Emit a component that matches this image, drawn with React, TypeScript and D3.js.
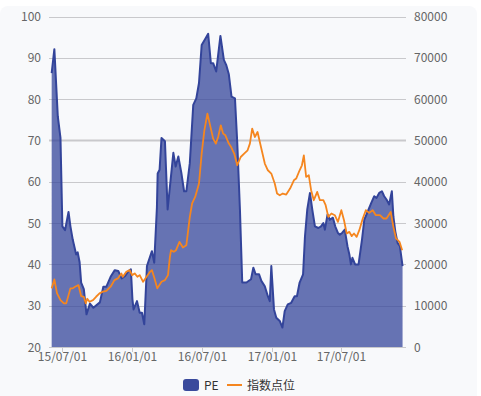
import { useRef, useEffect } from 'react';
import * as d3 from 'd3';

// PE series [date, value]
const peSeries: [string, number][] = [
  ['2015-06-05', 86.3], ['2015-06-12', 92.1], ['2015-06-21', 75.8], ['2015-06-28', 70.6],
  ['2015-07-03', 49.2], ['2015-07-10', 48.3], ['2015-07-19', 52.7], ['2015-07-24', 49.2],
  ['2015-07-30', 46], ['2015-08-08', 42.4], ['2015-08-12', 42.9], ['2015-08-17', 40.5],
  ['2015-08-21', 35.6], ['2015-08-28', 34], ['2015-09-04', 27.9], ['2015-09-13', 30.5],
  ['2015-09-22', 29.5], ['2015-10-09', 30.8], ['2015-10-18', 34.6], ['2015-10-26', 34.6],
  ['2015-11-06', 37], ['2015-11-17', 38.6], ['2015-11-26', 38.4], ['2015-12-05', 36.6],
  ['2015-12-14', 37.2], ['2015-12-23', 38.4], ['2015-12-29', 38.8], ['2016-01-02', 31.6],
  ['2016-01-05', 29.1], ['2016-01-14', 31.1], ['2016-01-21', 28.3], ['2016-01-27', 28.3],
  ['2016-02-02', 25.5], ['2016-02-09', 39.6], ['2016-02-22', 43.2], ['2016-02-28', 40.4],
  ['2016-03-06', 53.7], ['2016-03-08', 62], ['2016-03-13', 62.9], ['2016-03-18', 70.6],
  ['2016-03-27', 69.8], ['2016-04-03', 53.3], ['2016-04-18', 67], ['2016-04-24', 63.7],
  ['2016-05-01', 66.1], ['2016-05-09', 62.1], ['2016-05-16', 57.7], ['2016-05-22', 57.7],
  ['2016-05-31', 64.5], ['2016-06-09', 78.6], ['2016-06-17', 80.2], ['2016-06-24', 83.9],
  ['2016-07-01', 93.1], ['2016-07-11', 94.7], ['2016-07-18', 95.8], ['2016-07-25', 88.7],
  ['2016-07-31', 88.7], ['2016-08-08', 86.7], ['2016-08-19', 95.3], ['2016-08-28', 89.5],
  ['2016-09-03', 88.3], ['2016-09-10', 86], ['2016-09-17', 80.6], ['2016-09-26', 80.2],
  ['2016-10-02', 69.4], ['2016-10-09', 53.3], ['2016-10-15', 35.6], ['2016-10-26', 35.6],
  ['2016-11-07', 36.4], ['2016-11-13', 39.2], ['2016-11-19', 37.6], ['2016-11-28', 37.6],
  ['2016-12-04', 36], ['2016-12-13', 34.7], ['2016-12-21', 32.3], ['2016-12-26', 31.1],
  ['2016-12-30', 39.6], ['2017-01-06', 29.1], ['2017-01-12', 27.1], ['2017-01-21', 26.3],
  ['2017-01-28', 24.7], ['2017-02-03', 28.7], ['2017-02-11', 30.3], ['2017-02-20', 30.7],
  ['2017-03-01', 32.3], ['2017-03-07', 32.3], ['2017-03-14', 35.6], ['2017-03-23', 37.6],
  ['2017-03-28', 46.8], ['2017-04-03', 53.3], ['2017-04-10', 57.3], ['2017-04-16', 53.3],
  ['2017-04-23', 49.2], ['2017-05-02', 48.8], ['2017-05-09', 49.2], ['2017-05-15', 50],
  ['2017-05-19', 48.4], ['2017-05-26', 52.1], ['2017-06-01', 50.8], ['2017-06-09', 51.3],
  ['2017-06-15', 49.2], ['2017-06-22', 47.6], ['2017-06-27', 47.2], ['2017-07-03', 47.6],
  ['2017-07-10', 48.4], ['2017-07-17', 44.4], ['2017-07-22', 42.4], ['2017-07-26', 40],
  ['2017-07-30', 41.6], ['2017-08-06', 40], ['2017-08-15', 40], ['2017-08-24', 46],
  ['2017-08-30', 50.8], ['2017-09-08', 52.8], ['2017-09-17', 54.8], ['2017-09-25', 56.5],
  ['2017-10-01', 56.1], ['2017-10-08', 57.3], ['2017-10-15', 57.7], ['2017-10-21', 56.5],
  ['2017-10-27', 55.7], ['2017-11-03', 54.5], ['2017-11-10', 57.7], ['2017-11-14', 51.6],
  ['2017-11-19', 48], ['2017-11-25', 45.2], ['2017-12-01', 44.4], ['2017-12-08', 39.6],
];

// 指数点位 series [date, value]
const indexSeries: [string, number][] = [
  ['2015-06-05', 14190], ['2015-06-12', 16360], ['2015-06-19', 12980], ['2015-06-28', 11360],
  ['2015-07-07', 10560], ['2015-07-13', 10560], ['2015-07-24', 14190], ['2015-07-30', 14190],
  ['2015-08-05', 14580], ['2015-08-14', 14990], ['2015-08-21', 12330], ['2015-08-28', 12160],
  ['2015-09-02', 10560], ['2015-09-06', 11680], ['2015-09-12', 10950], ['2015-09-21', 11360],
  ['2015-09-29', 12160], ['2015-10-08', 12980], ['2015-10-17', 13400], ['2015-10-26', 13600],
  ['2015-11-06', 14600], ['2015-11-16', 16190], ['2015-11-25', 16600], ['2015-12-04', 17810],
  ['2015-12-08', 17000], ['2015-12-17', 18200], ['2015-12-26', 18610], ['2016-01-01', 17400],
  ['2016-01-08', 17810], ['2016-01-15', 17000], ['2016-01-21', 17400], ['2016-01-30', 15780],
  ['2016-02-08', 17000], ['2016-02-17', 18200], ['2016-02-22', 18600], ['2016-02-28', 16800],
  ['2016-03-07', 14190], ['2016-03-18', 15780], ['2016-03-27', 16190], ['2016-04-04', 17400],
  ['2016-04-09', 21830], ['2016-04-12', 23440], ['2016-04-19', 23030], ['2016-04-25', 23440],
  ['2016-05-04', 25450], ['2016-05-13', 24100], ['2016-05-22', 24650], ['2016-05-31', 31490],
  ['2016-06-06', 34740], ['2016-06-14', 36330], ['2016-06-24', 39570], ['2016-07-01', 46820],
  ['2016-07-08', 52450], ['2016-07-16', 56480], ['2016-07-22', 54070], ['2016-07-31', 50440],
  ['2016-08-07', 49230], ['2016-08-13', 50830], ['2016-08-20', 53660], ['2016-08-26', 51650],
  ['2016-09-01', 51240], ['2016-09-10', 49230], ['2016-09-16', 48410], ['2016-09-24', 46820],
  ['2016-10-02', 43990], ['2016-10-11', 45990], ['2016-10-20', 46820], ['2016-10-29', 47610],
  ['2016-11-04', 49230], ['2016-11-10', 52860], ['2016-11-17', 50830], ['2016-11-24', 52040],
  ['2016-12-03', 48410], ['2016-12-13', 44400], ['2016-12-21', 42780], ['2016-12-30', 41980],
  ['2017-01-08', 39570], ['2017-01-14', 37150], ['2017-01-21', 36740], ['2017-01-29', 37150],
  ['2017-02-07', 36910], ['2017-02-17', 38360], ['2017-02-27', 40360], ['2017-03-05', 40770],
  ['2017-03-14', 42780], ['2017-03-20', 43990], ['2017-03-25', 46400], ['2017-03-31', 41160],
  ['2017-04-07', 41570], ['2017-04-13', 37950], ['2017-04-20', 35530], ['2017-04-29', 37540],
  ['2017-05-06', 35530], ['2017-05-15', 35530], ['2017-05-21', 34320], ['2017-05-28', 31490],
  ['2017-06-05', 32310], ['2017-06-14', 31900], ['2017-06-22', 30280], ['2017-07-01', 33110],
  ['2017-07-08', 30690], ['2017-07-15', 27480], ['2017-07-22', 27870], ['2017-07-28', 26830],
  ['2017-08-03', 27480], ['2017-08-10', 26660], ['2017-08-17', 28280], ['2017-08-26', 31110],
  ['2017-09-03', 33110], ['2017-09-12', 32460], ['2017-09-21', 33110], ['2017-09-29', 31900],
  ['2017-10-10', 31900], ['2017-10-19', 31110], ['2017-10-27', 31110], ['2017-11-07', 32700],
  ['2017-11-14', 29080], ['2017-11-21', 26270], ['2017-11-30', 25450], ['2017-12-07', 23440],
];

const xTicks = ['2015-07-01', '2016-01-01', '2016-07-01', '2017-01-01', '2017-07-01'];
const leftTicks = [20, 30, 40, 50, 60, 70, 80, 90, 100];
const rightTicks = [0, 10000, 20000, 30000, 40000, 50000, 60000, 70000, 80000];
const legendNames = ['PE', '指数点位'];

const W = 481;
const H = 396;
const FONT = '"Noto Sans CJK SC", "Noto Sans", sans-serif';
const PE_COLOR = '#33449a';
const IDX_COLOR = '#f5861f';

export default function App() {
  const svgRef = useRef<SVGSVGElement>(null);

  useEffect(() => {
    if (!svgRef.current) return;
    const svg = d3.select(svgRef.current);
    svg.selectAll('*').remove();

    const parse = d3.timeParse('%Y-%m-%d');
    const pe = peSeries.map(([d, v]) => ({ date: parse(d)!, value: v }));
    const idx = indexSeries.map(([d, v]) => ({ date: parse(d)!, value: v }));

    const left = 49, right = 406, top = 16.5, bottom = 347;

    const x = d3.scaleTime()
      .domain([parse('2015-05-29')!, parse('2017-12-17')!])
      .range([left, right]);
    const yL = d3.scaleLinear().domain([20, 100]).range([bottom, top]);
    const yR = d3.scaleLinear().domain([0, 80000]).range([bottom, top]);

    // Panel background
    svg.append('rect')
      .attr('x', 0).attr('y', 6)
      .attr('width', 477).attr('height', 420)
      .attr('rx', 8)
      .attr('fill', '#f8f9fb');

    // Gridlines
    const grid = svg.append('g');
    leftTicks.forEach(t => {
      grid.append('line')
        .attr('x1', left).attr('x2', right)
        .attr('y1', Math.round(yL(t)) + 0.5).attr('y2', Math.round(yL(t)) + 0.5)
        .attr('stroke', '#c9c9cc')
        .attr('stroke-width', t === 70 ? 2 : 1);
    });

    // PE area
    const area = d3.area<{ date: Date; value: number }>()
      .x(d => x(d.date))
      .y0(yL(20))
      .y1(d => yL(d.value));
    svg.append('path')
      .datum(pe)
      .attr('d', area)
      .attr('fill', PE_COLOR)
      .attr('fill-opacity', 0.74);

    const peLine = d3.line<{ date: Date; value: number }>()
      .x(d => x(d.date))
      .y(d => yL(d.value));
    svg.append('path')
      .datum(pe)
      .attr('d', peLine)
      .attr('fill', 'none')
      .attr('stroke', PE_COLOR)
      .attr('stroke-width', 2)
      .attr('stroke-linejoin', 'round');

    // Index line
    const idxLine = d3.line<{ date: Date; value: number }>()
      .x(d => x(d.date))
      .y(d => yR(d.value));
    svg.append('path')
      .datum(idx)
      .attr('d', idxLine)
      .attr('fill', 'none')
      .attr('stroke', IDX_COLOR)
      .attr('stroke-width', 1.8)
      .attr('stroke-linejoin', 'round');

    // Bottom axis
    const xAxis = svg.append('g');
    xAxis.append('line')
      .attr('x1', left).attr('x2', right)
      .attr('y1', bottom + 0.5).attr('y2', bottom + 0.5)
      .attr('stroke', '#c9c9cc');
    xTicks.forEach(t => {
      const px = Math.round(x(parse(t)!)) + 0.5;
      xAxis.append('line')
        .attr('x1', px).attr('x2', px)
        .attr('y1', bottom).attr('y2', bottom + 5)
        .attr('stroke', '#c9c9cc');
      xAxis.append('text')
        .attr('x', px).attr('y', bottom + 14)
        .attr('text-anchor', 'middle')
        .attr('font-size', 12)
        .attr('font-family', FONT)
        .attr('fill', '#666')
        .text(d3.timeFormat('%y/%m/%d')(parse(t)!));
    });

    // Left axis labels
    leftTicks.forEach(t => {
      svg.append('text')
        .attr('x', 41).attr('y', yL(t) + 4.5)
        .attr('text-anchor', 'end')
        .attr('font-size', 12)
        .attr('font-family', FONT)
        .attr('fill', '#666')
        .text(t);
    });

    // Right axis labels
    rightTicks.forEach(t => {
      svg.append('text')
        .attr('x', 414).attr('y', yR(t) + 4.5)
        .attr('text-anchor', 'start')
        .attr('font-size', 12)
        .attr('font-family', FONT)
        .attr('fill', '#666')
        .text(t);
    });

    // Legend
    const lg = svg.append('g');
    lg.append('rect')
      .attr('x', 183).attr('y', 379)
      .attr('width', 16).attr('height', 12)
      .attr('rx', 3)
      .attr('fill', '#3a4a9c');
    lg.append('text')
      .attr('x', 204).attr('y', 389.5)
      .attr('font-size', 12)
      .attr('font-family', FONT)
      .attr('fill', '#333')
      .text(legendNames[0]);
    lg.append('line')
      .attr('x1', 227).attr('x2', 242)
      .attr('y1', 385).attr('y2', 385)
      .attr('stroke', IDX_COLOR)
      .attr('stroke-width', 2);
    lg.append('text')
      .attr('x', 247).attr('y', 389.5)
      .attr('font-size', 12)
      .attr('font-family', FONT)
      .attr('fill', '#333')
      .text(legendNames[1]);
  }, []);

  return (
    <svg
      ref={svgRef}
      width={W}
      height={H}
      style={{ position: 'absolute', left: 0, top: 0, background: '#fff' }}
    />
  );
}
